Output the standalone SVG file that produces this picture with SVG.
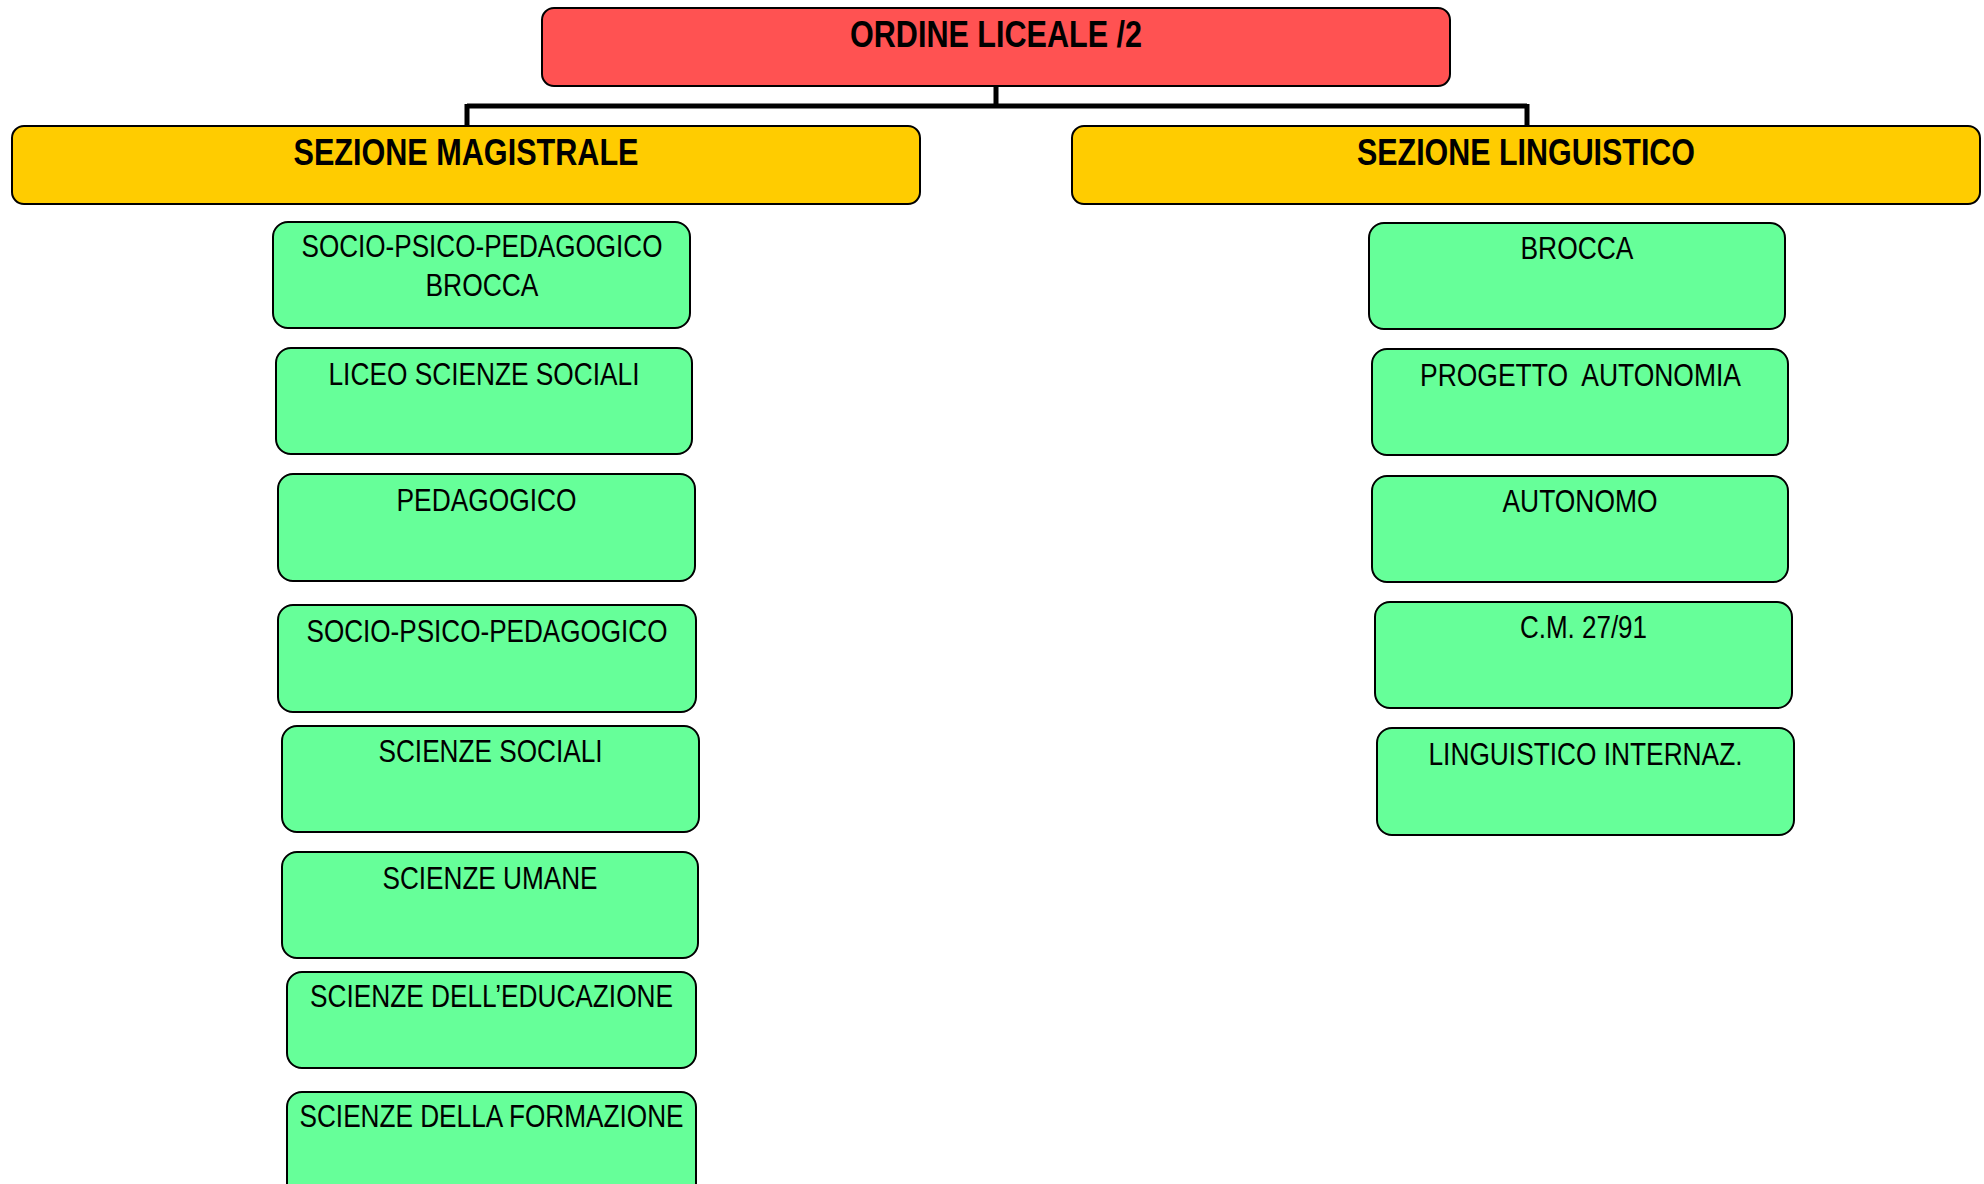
<svg xmlns="http://www.w3.org/2000/svg" width="1984" height="1184" viewBox="0 0 1984 1184">
<style>
.box{stroke:#000;stroke-width:2}
.root{fill:#FF5252}
.sec{fill:#FFCC00}
.leaf{fill:#66FF99}
.t{font-family:"Liberation Sans Narrow","Liberation Sans",Arial,sans-serif;font-stretch:condensed;text-anchor:middle;fill:#000}
.tb{font-size:37px;font-weight:bold}
.tl{font-size:31px}
.conn{stroke:#000;stroke-width:5;fill:none}
</style>
<rect width="1984" height="1184" fill="#fff"/>
<g id="connectors">
<path class="conn" d="M996 86 V106 M467 106 H1527 M467 104 V126 M1527 104 V126"/>
</g>
<g id="root">
<rect class="box root" x="542" y="8" width="908" height="78" rx="12"/>
<text class="t tb" x="996" y="47" textLength="292" lengthAdjust="spacingAndGlyphs">ORDINE LICEALE /2</text>
</g>
<g id="sez-magistrale">
<rect class="box sec" x="12" y="126" width="908" height="78" rx="12"/>
<text class="t tb" x="466" y="165" textLength="345" lengthAdjust="spacingAndGlyphs">SEZIONE MAGISTRALE</text>
</g>
<g id="sez-linguistico">
<rect class="box sec" x="1072" y="126" width="908" height="78" rx="12"/>
<text class="t tb" x="1526" y="165" textLength="338" lengthAdjust="spacingAndGlyphs">SEZIONE LINGUISTICO</text>
</g>
<g id="m1">
<rect class="box leaf" x="273" y="222" width="417" height="106" rx="15"/>
<text class="t tl" x="482" y="257" textLength="361" lengthAdjust="spacingAndGlyphs">SOCIO-PSICO-PEDAGOGICO</text>
<text class="t tl" x="482" y="296" textLength="113" lengthAdjust="spacingAndGlyphs">BROCCA</text>
</g>
<g id="m2">
<rect class="box leaf" x="276" y="348" width="416" height="106" rx="15"/>
<text class="t tl" x="484" y="385" textLength="311" lengthAdjust="spacingAndGlyphs">LICEO SCIENZE SOCIALI</text>
</g>
<g id="m3">
<rect class="box leaf" x="278" y="474" width="417" height="107" rx="15"/>
<text class="t tl" x="486.5" y="511" textLength="180" lengthAdjust="spacingAndGlyphs">PEDAGOGICO</text>
</g>
<g id="m4">
<rect class="box leaf" x="278" y="605" width="418" height="107" rx="15"/>
<text class="t tl" x="487" y="642" textLength="361" lengthAdjust="spacingAndGlyphs">SOCIO-PSICO-PEDAGOGICO</text>
</g>
<g id="m5">
<rect class="box leaf" x="282" y="726" width="417" height="106" rx="15"/>
<text class="t tl" x="490.5" y="762" textLength="224" lengthAdjust="spacingAndGlyphs">SCIENZE SOCIALI</text>
</g>
<g id="m6">
<rect class="box leaf" x="282" y="852" width="416" height="106" rx="15"/>
<text class="t tl" x="490" y="889" textLength="215" lengthAdjust="spacingAndGlyphs">SCIENZE UMANE</text>
</g>
<g id="m7">
<rect class="box leaf" x="287" y="972" width="409" height="96" rx="15"/>
<text class="t tl" x="491.5" y="1007" textLength="363" lengthAdjust="spacingAndGlyphs">SCIENZE DELL’EDUCAZIONE</text>
</g>
<g id="m8">
<rect class="box leaf" x="287" y="1092" width="409" height="110" rx="15"/>
<text class="t tl" x="491.5" y="1127" textLength="384" lengthAdjust="spacingAndGlyphs">SCIENZE DELLA FORMAZIONE</text>
</g>
<g id="l1">
<rect class="box leaf" x="1369" y="223" width="416" height="106" rx="15"/>
<text class="t tl" x="1577" y="259" textLength="113" lengthAdjust="spacingAndGlyphs">BROCCA</text>
</g>
<g id="l2">
<rect class="box leaf" x="1372" y="349" width="416" height="106" rx="15"/>
<text class="t tl" x="1580.5" y="386" textLength="321" lengthAdjust="spacingAndGlyphs" xml:space="preserve" style="white-space:pre">PROGETTO  AUTONOMIA</text>
</g>
<g id="l3">
<rect class="box leaf" x="1372" y="476" width="416" height="106" rx="15"/>
<text class="t tl" x="1580" y="512" textLength="155" lengthAdjust="spacingAndGlyphs">AUTONOMO</text>
</g>
<g id="l4">
<rect class="box leaf" x="1375" y="602" width="417" height="106" rx="15"/>
<text class="t tl" x="1583.5" y="638" textLength="127" lengthAdjust="spacingAndGlyphs">C.M. 27/91</text>
</g>
<g id="l5">
<rect class="box leaf" x="1377" y="728" width="417" height="107" rx="15"/>
<text class="t tl" x="1585.5" y="765" textLength="314" lengthAdjust="spacingAndGlyphs">LINGUISTICO INTERNAZ.</text>
</g>
</svg>
